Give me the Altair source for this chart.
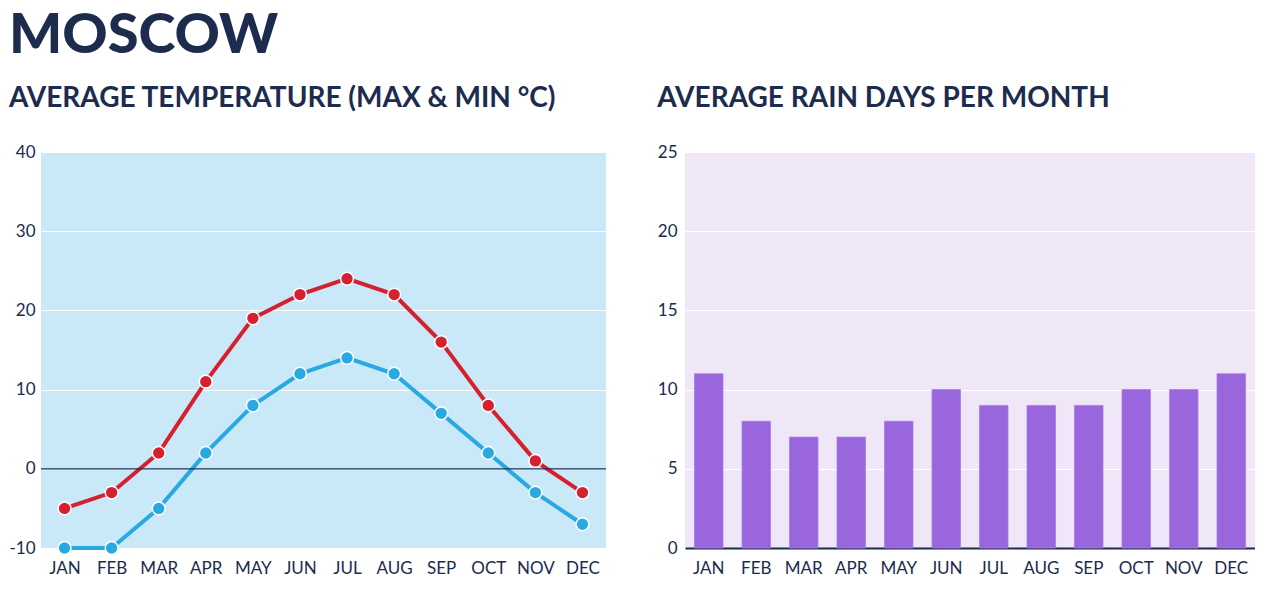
import altair as alt
import pandas as pd

months = ["JAN", "FEB", "MAR", "APR", "MAY", "JUN", "JUL", "AUG", "SEP", "OCT", "NOV", "DEC"]
temp_max = [-5, -3, 2, 11, 19, 22, 24, 22, 16, 8, 1, -3]
temp_min = [-10, -10, -5, 2, 8, 12, 14, 12, 7, 2, -3, -7]
rain_days = [11, 8, 7, 7, 8, 10, 9, 9, 9, 10, 10, 11]

NAVY = "#1c2b4e"
RED = "#d7202f"
BLUE = "#29a9e1"
FONT = "Lato"

temp_df = pd.DataFrame(
    {"month": months * 2,
     "series": ["max"] * 12 + ["min"] * 12,
     "value": temp_max + temp_min}
)
rain_df = pd.DataFrame({"month": months, "days": rain_days})
zero_df = pd.DataFrame({"y": [0]})

axis_common = dict(labelFont=FONT, labelFontSize=17, labelColor=NAVY, ticks=False, title=None)

x_temp = alt.X("month:N", sort=months,
               scale=alt.Scale(type="point", padding=0.5),
               axis=alt.Axis(labelAngle=0, domain=False, labelPadding=12, grid=False, **axis_common))
y_temp = alt.Y("value:Q", scale=alt.Scale(domain=[-10, 40], nice=False, zero=False),
               axis=alt.Axis(values=[-10, 0, 10, 20, 30, 40], domain=False, grid=True,
                             labelExpr="'' + datum.value",
                             gridColor="white", gridWidth=1, labelPadding=6, **axis_common))
color = alt.Color("series:N", scale=alt.Scale(domain=["max", "min"], range=[RED, BLUE]), legend=None)

base = alt.Chart(temp_df).encode(x=x_temp, y=y_temp, color=color)
lines = base.mark_line(strokeWidth=4)
points = base.mark_point(filled=True, size=165, stroke="white", strokeWidth=1.5, opacity=1)
zero = alt.Chart(zero_df).mark_rule(color=NAVY, strokeWidth=1.2).encode(y=alt.Y("y:Q"))

left = alt.layer(lines, zero, points).properties(
    width=565, height=396,
    view=alt.ViewBackground(fill="#c9e9f8", strokeWidth=0),
    title=alt.TitleParams("AVERAGE TEMPERATURE (MAX & MIN °C)", anchor="start", font=FONT,
                          fontSize=28, fontWeight="bold", color=NAVY, baseline="alphabetic", offset=8),
)

right = alt.Chart(rain_df).mark_bar(color="#9966dd", stroke="#a57de3", strokeWidth=0.8).encode(
    x=alt.X("month:N", sort=months,
            scale=alt.Scale(paddingInner=0.4, paddingOuter=0.2),
            axis=alt.Axis(labelAngle=0, domain=True, domainColor=NAVY, domainWidth=2,
                          labelPadding=12, grid=False, **axis_common)),
    y=alt.Y("days:Q", scale=alt.Scale(domain=[0, 25], nice=False),
            axis=alt.Axis(values=[0, 5, 10, 15, 20, 25], domain=False, grid=True,
                          gridColor="white", gridWidth=1, labelPadding=8, **axis_common)),
).properties(
    width=570, height=396,
    view=alt.ViewBackground(fill="#efe6f8", strokeWidth=0),
    title=alt.TitleParams("AVERAGE RAIN DAYS PER MONTH", anchor="start", font=FONT,
                          fontSize=28, fontWeight="bold", color=NAVY, baseline="alphabetic", offset=8),
)

chart = alt.hconcat(left, right, spacing=50).properties(
    title=alt.TitleParams("MOSCOW", anchor="start", font=FONT, fontSize=56, fontWeight=900,
                          color=NAVY, baseline="alphabetic", offset=-24),
    padding={"left": 0, "top": 0, "right": 0, "bottom": 0},
).configure_view(strokeWidth=0).configure_concat(spacing=50)

chart.save("out.html", embed_options={"renderer": "svg", "actions": False})
